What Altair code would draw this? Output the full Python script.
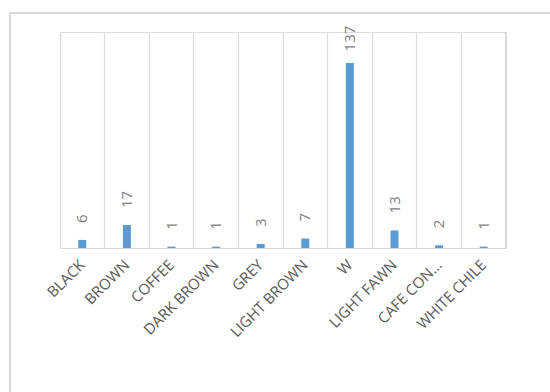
import altair as alt
import pandas as pd

categories = ["BLACK", "BROWN", "COFFEE", "DARK BROWN", "GREY", "LIGHT BROWN",
              "W", "LIGHT FAWN", "CAFE CON…", "WHITE CHILE"]
values = [6, 17, 1, 1, 3, 7, 137, 13, 2, 1]

df = pd.DataFrame({"cat": categories, "val": values})

W, H = 446, 216
FONT = "Open Sans"
YMAX = 160

x_enc = alt.X("cat:N", sort=categories, title=None,
              scale=alt.Scale(paddingInner=0, paddingOuter=0),
              axis=alt.Axis(bandPosition=0, grid=True, gridColor="#d9d9d9",
                            gridWidth=1.2, ticks=False, domainColor="#d9d9d9",
                            domainWidth=1.2, labelAngle=-45, labelAlign="right",
                            labelBaseline="middle",
                            labelPadding=14, labelFont=FONT, labelFontSize=15,
                            labelColor="#595959", labelLimit=300))
y_scale = alt.Scale(domain=[0, YMAX])

bars = alt.Chart(df).mark_bar(color="#5B9BD5", size=8).encode(
    x=x_enc, y=alt.Y("val:Q", scale=y_scale, axis=None))

# data labels sit outside the bar end, kept inside the plot area (as Excel does)
labels = alt.Chart(df).transform_calculate(
    ly="min(datum.val, 133)"
).mark_text(angle=270, align="left", baseline="middle",
            dx=17, font=FONT, fontSize=15, color="#7f7f7f").encode(
    x=alt.X("cat:N", sort=categories),
    y=alt.Y("ly:Q", scale=y_scale, axis=None),
    text="val:Q")

right_edge = alt.Chart(df).mark_rule(color="#d9d9d9", strokeWidth=1.2).encode(
    x=alt.value(W), y=alt.value(0), y2=alt.value(H))

border = alt.Chart(df).mark_rect(filled=False, stroke="#d9d9d9",
                                 strokeWidth=1.5).encode(
    x=alt.value(-50), x2=alt.value(500), y=alt.value(-19), y2=alt.value(370))

chart = alt.layer(border, bars, labels, right_edge).properties(
    width=W, height=H,
    autosize=alt.AutoSizeParams(type="none"),
    padding={"left": 60, "top": 32, "right": 44, "bottom": 144},
).configure_view(stroke=None).configure(background="white")

chart.save("out.html", embed_options={"renderer": "svg", "actions": False})
